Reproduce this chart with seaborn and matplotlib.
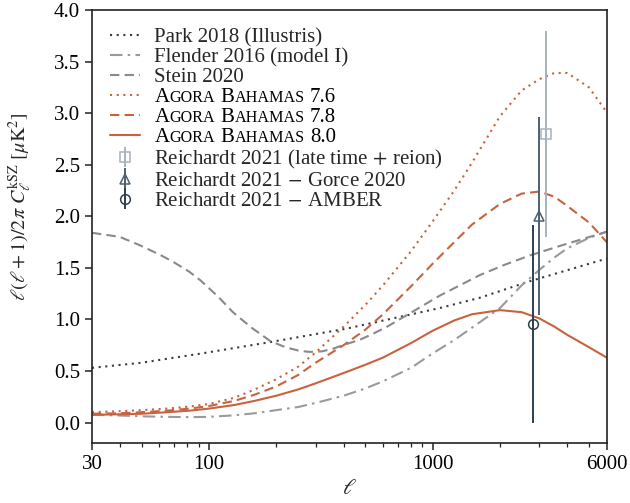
import numpy as np
import pandas as pd
import matplotlib
matplotlib.use("Agg")
import matplotlib.pyplot as plt
import seaborn as sns
from matplotlib.offsetbox import TextArea, HPacker
from matplotlib.ticker import LogLocator, NullFormatter, FixedLocator, FixedFormatter

# ---------------- data ----------------
ell_park = [30, 50, 91, 188, 411, 1075, 1626, 2718, 6000]
cl_park = [0.53, 0.58, 0.667, 0.78, 0.91, 1.11, 1.21, 1.37, 1.59]

ell_stein = [30, 40, 49, 60, 69, 82, 91.5, 110, 128, 155, 188, 220, 254, 282, 320, 358,
             410, 470, 540, 621, 800, 1075, 1626, 2100, 2718, 3800, 6000]
cl_stein = [1.84, 1.80, 1.72, 1.63, 1.56, 1.46, 1.38, 1.22, 1.07, 0.92, 0.79, 0.73, 0.695,
            0.685, 0.69, 0.715, 0.76, 0.80, 0.86, 0.925, 1.065, 1.23, 1.43, 1.53, 1.62,
            1.72, 1.85]

ell_grid = [30, 40, 50, 65, 82, 100, 130, 160, 200, 250, 300, 400, 500, 600, 800, 1000,
            1250, 1500, 2000, 2500, 3000, 3500, 4000, 5000, 6000]
cl_flender = [0.075, 0.068, 0.06, 0.055, 0.052, 0.055, 0.07, 0.09, 0.12, 0.15, 0.19, 0.26,
              0.33, 0.40, 0.53, 0.67, 0.80, 0.92, 1.11, 1.33, 1.48, 1.60, 1.69, 1.79, 1.85]
cl_a76 = [0.10, 0.11, 0.12, 0.135, 0.155, 0.18, 0.24, 0.32, 0.42, 0.54, 0.68, 0.93, 1.14,
          1.33, 1.66, 1.95, 2.25, 2.52, 2.97, 3.22, 3.33, 3.39, 3.39, 3.25, 3.01]
cl_a78 = [0.085, 0.09, 0.10, 0.115, 0.135, 0.16, 0.21, 0.27, 0.35, 0.46, 0.58, 0.75, 0.90,
          1.05, 1.32, 1.54, 1.75, 1.92, 2.12, 2.22, 2.24, 2.19, 2.10, 1.94, 1.75]
cl_a80 = [0.075, 0.08, 0.085, 0.10, 0.115, 0.135, 0.17, 0.21, 0.26, 0.32, 0.38, 0.48, 0.56,
          0.63, 0.77, 0.89, 0.99, 1.05, 1.09, 1.07, 1.01, 0.93, 0.85, 0.73, 0.63]

obs_labels = ["Reichardt 2021 (late time$\\,+\\,$reion)",
              "Reichardt 2021$\\,-\\,$Gorce 2020",
              "Reichardt 2021$\\,-\\,$AMBER"]
obs_ell = [3200, 3000, 2800]
obs_val = [2.80, 2.00, 0.96]
obs_err = [1.00, 0.96, 0.96]

xtick_vals = [30, 100, 1000, 6000]
xtick_labels = ["30", "100", "1000", "6000"]
ytick_vals = [0.0, 0.5, 1.0, 1.5, 2.0, 2.5, 3.0, 3.5, 4.0]

# ---------------- style ----------------
sns.set_theme(style="ticks")
plt.rcParams['font.family'] = ['Liberation Serif', 'DejaVu Serif']
plt.rcParams['mathtext.fontset'] = 'stix'
plt.rcParams['font.size'] = 15
plt.rcParams['axes.edgecolor'] = '#222222'
plt.rcParams['axes.linewidth'] = 1.2
plt.rcParams['xtick.color'] = '#222222'
plt.rcParams['ytick.color'] = '#222222'
plt.rcParams['xtick.labelcolor'] = 'black'
plt.rcParams['ytick.labelcolor'] = 'black'

ORANGE = '#c8623f'

fig = plt.figure(figsize=(6.3, 5.03), dpi=100)
ax = fig.add_axes([0.146, 0.119, 0.817, 0.861])

series = [
    (ell_park, cl_park, 'Park 2018 (Illustris)', '#3c3c3c', (0, (1, 2.2))),
    (ell_grid, cl_flender, 'Flender 2016 (model I)', '#9a9a9a', (0, (6, 2.5, 1.2, 2.5))),
    (ell_stein, cl_stein, 'Stein 2020', '#8a8a8a', (0, (4.5, 2.5))),
    (ell_grid, cl_a76, 'AGORA76', ORANGE, (0, (1, 2.2))),
    (ell_grid, cl_a78, 'AGORA78', ORANGE, (0, (4.5, 2.5))),
    (ell_grid, cl_a80, 'AGORA80', ORANGE, '-'),
]
for xs, ys, lab, col, ls in series:
    df = pd.DataFrame({'ell': xs, 'cl': ys})
    sns.lineplot(data=df, x='ell', y='cl', ax=ax, color=col, linestyle=ls,
                 linewidth=1.5, label=lab, sort=False)

obs_styles = [('s', '#a6b3bd'), ('^', '#4e6070'), ('o', '#2d3e4e')]
for lab, x, y, e, (mk, col) in zip(obs_labels, obs_ell, obs_val, obs_err, obs_styles):
    ax.errorbar([x], [y], yerr=[e], fmt=mk, mfc='none', mec=col, ecolor=col,
                ms=7, mew=1.1, elinewidth=1.4, capsize=0, label=lab)

ax.set_xscale('log')
ax.set_xlim(30, 6000)
ax.set_ylim(-0.2, 4.0)
ax.xaxis.set_major_locator(FixedLocator(xtick_vals))
ax.xaxis.set_major_formatter(FixedFormatter(xtick_labels))
ax.xaxis.set_minor_locator(LogLocator(base=10, subs=np.arange(2, 10)))
ax.xaxis.set_minor_formatter(NullFormatter())
ax.set_yticks(ytick_vals)
ax.set_yticklabels([f"{v:.1f}" for v in ytick_vals])
ax.tick_params(which='major', direction='out', length=5, width=1.1, labelsize=15)
ax.tick_params(which='minor', direction='out', length=3, width=0.9)
for s in ax.spines.values():
    s.set_visible(True)

ax.set_xlabel(r"$\ell$", fontsize=16)
ax.set_ylabel(r"$\ell(\ell+1)/2\pi\ C_\ell^{\rm kSZ}\ [\mu{\rm K}^2]$", fontsize=14.5)
ax.yaxis.set_label_coords(-0.112, 0.545)

handles, labels = ax.get_legend_handles_labels()
leg = ax.legend(handles, labels, loc='upper left', frameon=False, fontsize=15,
                handlelength=1.45, handletextpad=0.7, labelspacing=0.02,
                borderpad=0.4, borderaxespad=0.45)

# small-caps rendering of "Agora Bahamas x.y"
big, small = 15, 11.6
def smallcaps_box(num):
    def ta(t, size):
        return TextArea(t, textprops=dict(fontsize=size, color='black',
                                          family=['Liberation Serif', 'DejaVu Serif']))
    w1 = HPacker(children=[ta("A", big), ta("GORA", small)], sep=0, pad=0, align='baseline')
    w2 = HPacker(children=[ta("B", big), ta("AHAMAS", small)], sep=0, pad=0, align='baseline')
    w3 = ta(num, big)
    box = HPacker(children=[w1, w2, w3], sep=3.9, pad=0, align='baseline')
    box.set_figure(fig)
    return box

nums = {'AGORA76': '7.6', 'AGORA78': '7.8', 'AGORA80': '8.0'}
for col in leg._legend_handle_box.get_children():
    for item in col.get_children():
        kids = item.get_children()
        tb = kids[1]
        if isinstance(tb, TextArea):
            t = tb._text.get_text()
            if t in nums:
                item._children[1] = smallcaps_box(nums[t])

fig.savefig("out.png", dpi=100)
